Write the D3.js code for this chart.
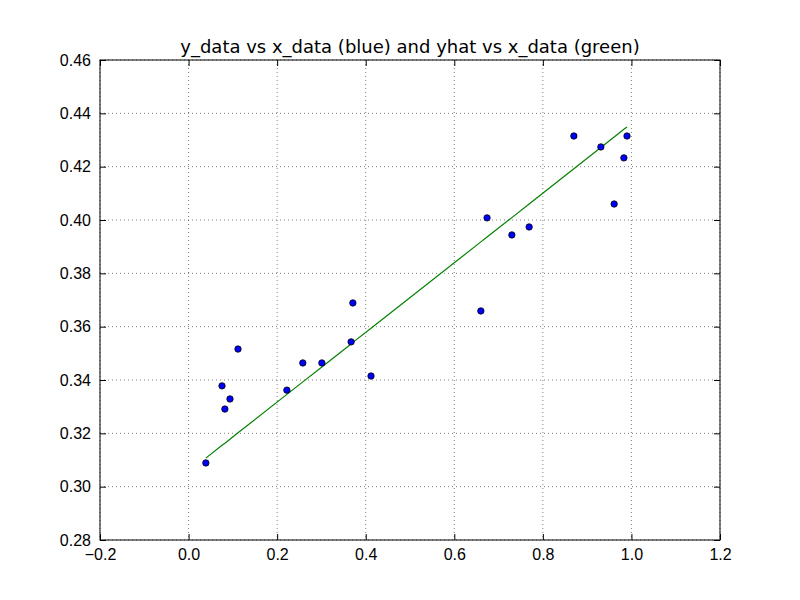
<!DOCTYPE html>
<html><head><meta charset="utf-8">
<script src="https://cdn.jsdelivr.net/npm/d3@7"></script>
<style>body{margin:0;background:#fff}svg{font-family:"DejaVu Sans",sans-serif}</style>
</head><body>
<script>
const xData=[0.039,0.0755,0.082,0.0935,0.1116,0.222,0.258,0.301,0.367,0.371,0.412,0.660,0.674,0.730,0.769,0.870,0.931,0.961,0.983,0.990];
const yData=[0.3089,0.3378,0.3291,0.3329,0.3516,0.3362,0.3464,0.3464,0.3543,0.3689,0.3415,0.3659,0.4008,0.3944,0.3974,0.4315,0.4274,0.4060,0.4233,0.4315];
const yHat=[0.3107,0.3155,0.3163,0.3178,0.3202,0.3346,0.3393,0.3449,0.3535,0.3541,0.3594,0.3918,0.3936,0.4009,0.4060,0.4192,0.4272,0.4311,0.4340,0.4349];
const xTicks=[-0.2,0,0.2,0.4,0.6,0.8,1.0,1.2];
const yTicks=[0.28,0.30,0.32,0.34,0.36,0.38,0.40,0.42,0.44,0.46];
const L=100,R=720,T=60,B=540;
const svg=d3.select("body").append("svg").attr("width",800).attr("height",600);
const x=d3.scaleLinear().domain([-0.2,1.2]).range([L,R]);
const y=d3.scaleLinear().domain([0.28,0.46]).range([B,T]);
const g=svg.append("g");
xTicks.forEach(t=>g.append("line").attr("x1",x(t)).attr("x2",x(t)).attr("y1",T).attr("y2",B).attr("stroke","#000").attr("stroke-width",0.5).attr("stroke-dasharray","1,3"));
yTicks.forEach(t=>g.append("line").attr("y1",y(t)).attr("y2",y(t)).attr("x1",L).attr("x2",R).attr("stroke","#000").attr("stroke-width",0.5).attr("stroke-dasharray","1,3"));
const ax=(sel)=>sel.selectAll("text").attr("font-size",16).attr("fill","#000");
svg.append("g").attr("transform",`translate(0,${B})`).call(d3.axisBottom(x).tickValues(xTicks).tickFormat(d3.format(".1f")).tickSizeInner(-6).tickSizeOuter(0).tickPadding(9)).call(ax).call(s=>s.select(".domain").remove());
svg.append("g").attr("transform",`translate(0,${T})`).call(d3.axisTop(x).tickValues(xTicks).tickFormat("").tickSizeInner(-6).tickSizeOuter(0)).call(s=>s.select(".domain").remove());
svg.append("g").attr("transform",`translate(${L},0)`).call(d3.axisLeft(y).tickValues(yTicks).tickFormat(d3.format(".2f")).tickSizeInner(-6).tickSizeOuter(0).tickPadding(9)).call(ax).call(s=>s.select(".domain").remove());
svg.append("g").attr("transform",`translate(${R},0)`).call(d3.axisRight(y).tickValues(yTicks).tickFormat("").tickSizeInner(-6).tickSizeOuter(0)).call(s=>s.select(".domain").remove());
const idx=d3.range(xData.length).sort((a,b)=>xData[a]-xData[b]);
svg.append("path").datum(idx).attr("fill","none").attr("stroke","#008000").attr("stroke-width",1.2)
 .attr("d",d3.line().x(i=>x(xData[i])).y(i=>y(yHat[i])));
svg.selectAll("circle").data(xData).join("circle").attr("cx",d=>x(d)).attr("cy",(d,i)=>y(yData[i])).attr("r",3.2).attr("fill","#0000ff").attr("stroke","#000").attr("stroke-width",0.8);
svg.append("rect").attr("x",L).attr("y",T).attr("width",R-L).attr("height",B-T).attr("fill","none").attr("stroke","#000");
svg.append("text").attr("x",(L+R)/2).attr("y",53).attr("text-anchor","middle").attr("font-size",18).text("y_data vs x_data (blue) and yhat vs x_data (green)");
</script>
</body></html>
